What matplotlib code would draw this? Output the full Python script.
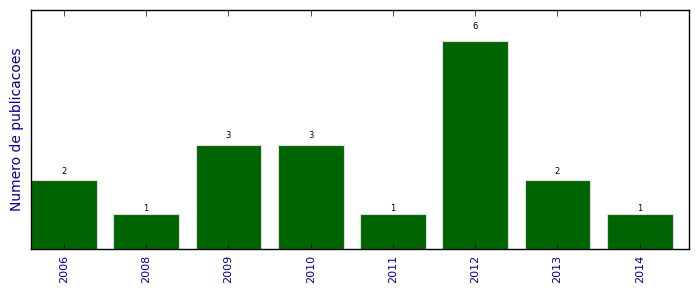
import matplotlib
matplotlib.use('Agg')
import matplotlib.pyplot as plt

anos = ['2006', '2008', '2009', '2010', '2011', '2012', '2013', '2014']
publicacoes = [2, 1, 3, 3, 1, 6, 2, 1]

plt.style.use('classic')
fig = plt.figure(figsize=(6.99, 2.92), dpi=100)
ax = fig.add_axes([31 / 699, 43 / 292, 658 / 699, 239 / 292])

pos = list(range(len(anos)))
ax.bar(pos, publicacoes, width=0.8, align='center', color='#006400', edgecolor='#dddddd', linewidth=0.8)

# valores em cima das barras
for x, v in zip(pos, publicacoes):
    ax.text(x, 1.05 * v, str(v), ha='center', va='bottom', fontsize=6)

ax.set_xlim(-0.4, 7.6)
ax.set_ylim(0, max(publicacoes) * 1.15)
ax.set_xticks(pos)
ax.set_xticklabels(anos, rotation=90, fontsize=8, color='darkblue')
ax.set_yticks([])
ax.set_ylabel('Numero de publicacoes', fontsize=10, color='darkblue')

fig.savefig('out.png', dpi=100)
